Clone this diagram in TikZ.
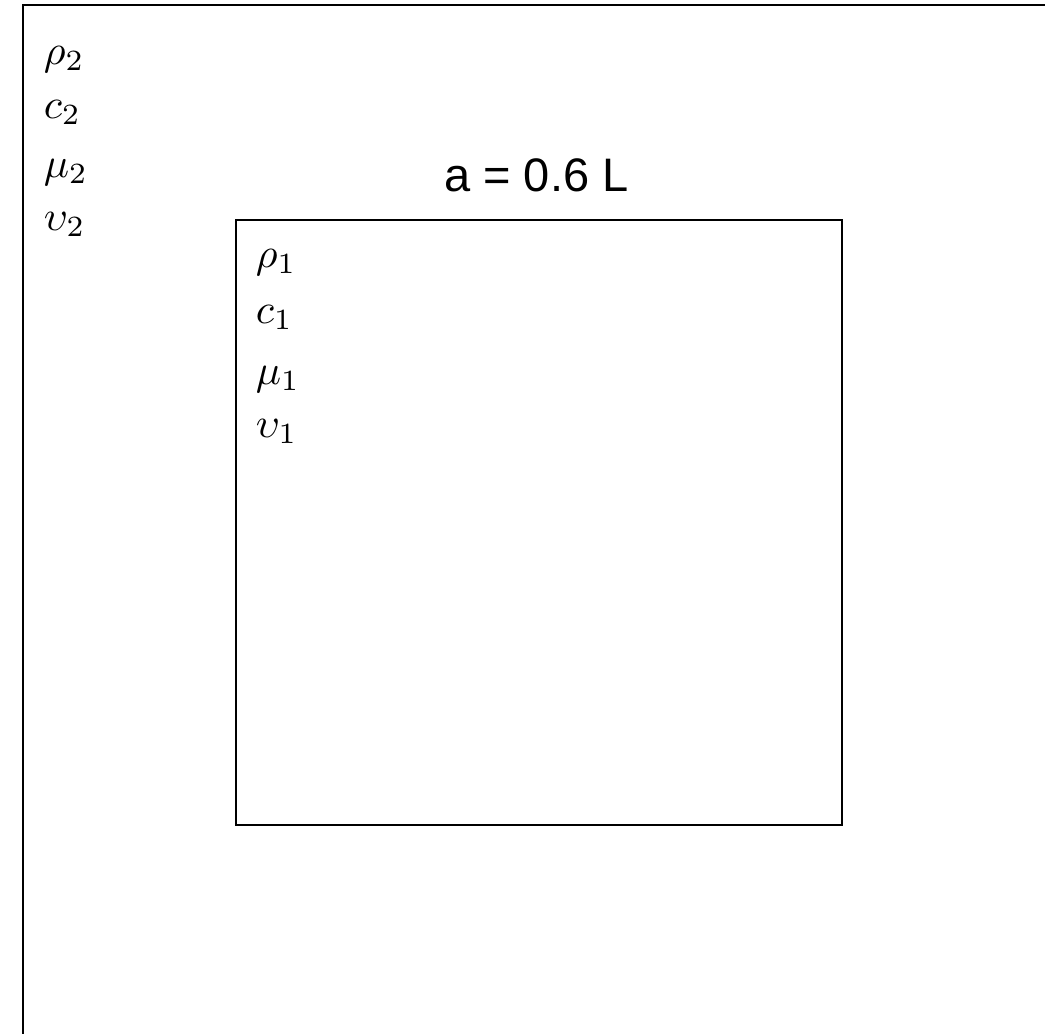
\documentclass[tikz,border=0pt]{standalone}
\usepackage{fontspec}
\newfontfamily\arialfont{Liberation Sans}
\tikzset{
  frame/.style={draw=black, line width=2pt},
  sym/.style={anchor=base west, inner sep=0pt, font=\normalsize, scale=4.2},
  dim/.style={anchor=base west, inner sep=0pt, font=\arialfont\fontsize{47}{56}\selectfont}
}
\begin{document}
\begin{tikzpicture}[x=1pt,y=-1pt]
\useasboundingbox (0,0) rectangle (1045,1034);
\begin{scope}
\clip (0,0) rectangle (1045,1034);
\draw[frame] (22.5,5) rectangle (1060,1050);
\end{scope}
\draw[frame] (236,220) rectangle (842,825);
% outer medium
\node[sym] (r2) at (43,64) {$\rho_2$};
\node[sym] (c2) at (43,118) {$c_2$};
\node[sym] (m2) at (43,177) {$\mu_2$};
\node[sym] (u2) at (43,230) {$\upsilon_2$};
% inner medium
\node[sym] (r1) at (255,267) {$\rho_1$};
\node[sym] (c1) at (255,323) {$c_1$};
\node[sym] (m1) at (255,384) {$\mu_1$};
\node[sym] (u1) at (255,437) {$\upsilon_1$};
% dimension
\node[dim] (a) at (444,191) {a = 0.6 L};
\end{tikzpicture}
\end{document}
